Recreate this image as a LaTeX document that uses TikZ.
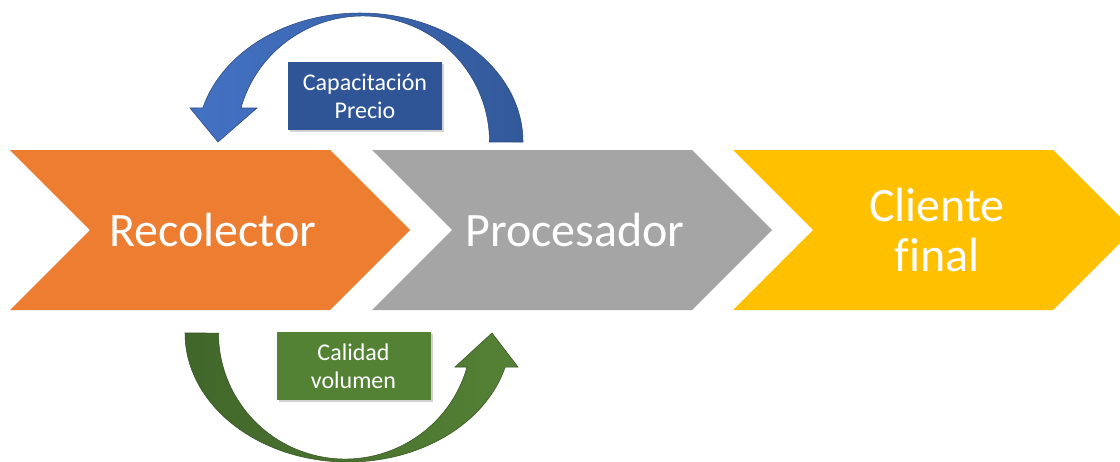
\documentclass[tikz,border=0pt]{standalone}
\usepackage{fontspec}
\setmainfont{Carlito}[Ligatures=NoCommon]
\usetikzlibrary{shadows}

\definecolor{recOrange}{HTML}{ED7D31}
\definecolor{procGray}{HTML}{A5A5A5}
\definecolor{cliYellow}{HTML}{FFC000}
\definecolor{capBlue}{HTML}{2F5597}
\definecolor{blueHead}{HTML}{4472C4}
\definecolor{blueTail}{HTML}{32599A}
\definecolor{calGreen}{HTML}{548235}
\definecolor{greenTail}{HTML}{41662A}
\definecolor{greenHead}{HTML}{548235}

\begin{document}
\begin{tikzpicture}[x=0.75pt, y=-0.75pt,
    bigtext/.style={text=white, font=\fontsize{36}{38}\selectfont, align=center},
    tagbox/.style={text=white, font=\fontsize{18}{21}\selectfont, align=center,
        minimum width=115.5pt, minimum height=51pt, inner sep=0pt,
        drop shadow={opacity=0.35, shadow xshift=1.5pt, shadow yshift=-1.5pt}}]

    % Page size
    \useasboundingbox (0, 0) rectangle (1120, 461);
    \fill[white] (0, 0) rectangle (1120, 461);
    \clip (0, 0) rectangle (1120, 461);

    % Draw chevrons
    \foreach \x/\col in {10/recOrange, 372/procGray, 733/cliYellow} {
        \fill[\col] (\x, 150) -- ++(320, 0) -- ++(80, 80) -- ++(-80, 80)
            -- ++(-320, 0) -- ++(80, -80) -- cycle;
    }

    % Labels for chevrons
    \node[bigtext] (rec) at (213, 230) {Recolector};
    \node[bigtext] (proc) at (575, 230) {Procesador};
    \node[bigtext] (cli) at (937, 230) {Cliente\\final};

    % Curved arrow on top (back to Recolector)
    \shade[left color=blueHead, right color=blueTail, draw=blueTail!80!black, line width=0.4pt]
        (523, 142) arc[start angle=0, end angle=-164.7, x radius=163, y radius=129]
        -- (190, 108) -- (218, 142) -- (257, 108) -- (241, 108)
        arc[start angle=-164.35, end angle=0, x radius=126.6, y radius=126] -- cycle;

    % Curved arrow at bottom (on to Procesador)
    \shade[left color=greenTail, right color=greenHead, draw=greenTail!80!black, line width=0.4pt]
        (185, 333) arc[start angle=180, end angle=15.3, x radius=163, y radius=129]
        -- (518, 367) -- (492, 333) -- (455, 367) -- (467, 367)
        arc[start angle=15.65, end angle=180, x radius=126.6, y radius=126] -- cycle;

    % Boxes for the flows
    \node[tagbox, fill=capBlue] (capTag) at (365, 96) {Capacitación\\Precio};
    \node[tagbox, fill=calGreen] (calTag) at (353.5, 366) {Calidad\\volumen};

\end{tikzpicture}
\end{document}
